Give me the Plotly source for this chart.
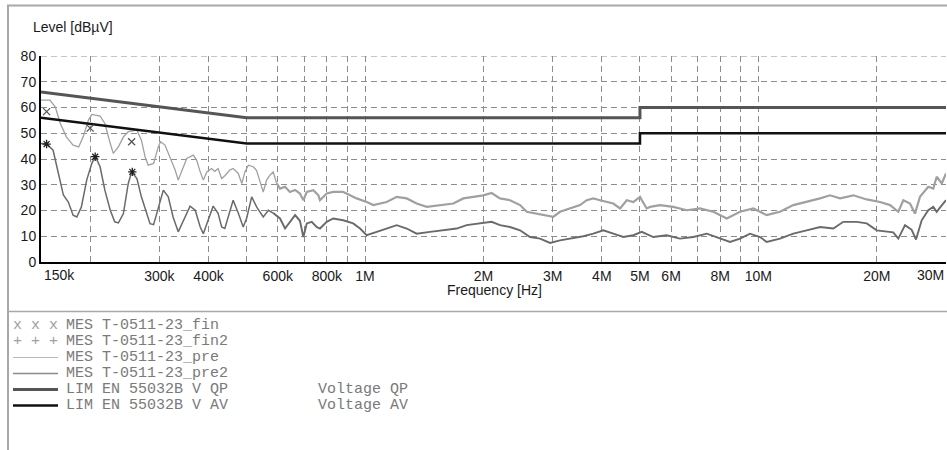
import plotly.graph_objects as go

# ---------------- data ----------------
# prescan peak (pre) - frequency in kHz, level in dBuV
pre_f_khz = [150,158,163,168,174,181,187,192,198,202,
             212,218,225,229,236,243,250,263,270,276,
             281,290,298,302,310,319,329,335,345,352,
             366,373,381,388,396,407,415,423,432,440,
             453,462,476,486,495,505,520,530,541,551,
             562,573,584,596,608,626,644,664,683,697,
             711,739,761,768,799,830,880,916,952,1010,
             1050,1135,1204,1276,1353,1435,1551,1677,1778,1885,
             1998,2098,2203,2337,2478,2577,2733,2898,3010,3131,
             3320,3520,3661,3805,3957,4116,4278,4451,4628,4809,
             5001,5200,5304,5624,6079,6576,7107,7683,8311,8983,
             9710,10500,11350,12270,13270,14350,15210,16130,17440,18860,
             20390,21620,22690,23370,24300,25020,25760,27040,27850,28410,29260,30000]
pre_db = [62.9,62.9,60.3,53.8,48.6,45.4,44.7,48.6,55.1,57.3,
          56.7,53.8,46.0,42.2,44.7,48.6,50.6,51.2,47.3,40.8,
          37.6,38.3,44.7,46.7,45.4,40.8,35.7,31.8,37.0,40.2,
          41.5,39.6,35.0,31.8,35.0,36.3,35.2,36.3,32.4,33.5,
          35.7,36.3,34.4,30.5,35.0,37.6,37.0,35.5,31.1,27.2,
          31.8,33.7,35.0,30.5,28.5,29.2,27.2,28.0,26.6,24.0,
          27.2,27.9,25.9,24.0,26.6,27.2,27.2,25.9,24.7,23.3,
          22.1,23.3,25.3,24.7,22.7,21.4,22.1,22.7,24.7,25.3,
          25.9,26.8,24.7,24.0,22.1,19.5,18.8,18.2,17.5,19.5,
          20.8,22.1,24.0,24.7,24.0,23.3,22.7,20.8,24.0,23.3,
          25.3,20.8,21.4,22.1,21.4,20.1,20.8,19.5,16.9,19.5,
          20.8,18.2,19.5,22.1,23.3,24.7,25.9,24.7,25.9,24.3,
          23.3,22.1,19.5,24.0,22.7,18.8,25.3,29.2,28.5,33.1,30.5,34.4]

# prescan average (pre2)
pre2_f_khz = [150,155,161,166,171,176,181,185,190,196,
              202,206,212,218,225,231,236,243,250,255,
              263,270,279,284,290,298,307,316,325,335,
              345,359,370,381,388,399,411,423,432,440,
              453,462,476,490,500,515,530,551,568,584,
              608,626,644,664,683,697,711,732,753,768,
              799,830,880,933,971,1010,1071,1135,1204,1276,
              1353,1463,1581,1710,1813,1960,2098,2203,2337,2478,
              2627,2786,2954,3131,3320,3588,3805,4035,4278,4536,
              4809,5052,5408,5847,6321,6834,7392,7989,8472,8983,
              9524,10100,10500,11350,12270,13270,14350,15510,16440,17790,
              18860,20000,21210,22030,22690,23600,24540,25170,26020,27040,
              27850,28410,29260,30000]
pre2_db = [46.0,45.8,43.4,34.4,26.0,23.3,18.2,17.5,21.4,31.8,
           38.3,41.1,37.0,27.9,20.1,15.6,15.2,18.8,30.5,35.0,
           32.4,25.3,18.8,14.9,14.5,21.4,27.9,25.3,17.5,11.7,
           16.2,21.7,20.1,13.6,11.0,16.2,21.7,18.9,13.6,13.0,
           19.5,24.0,19.0,13.6,17.0,25.3,21.4,17.5,20.1,19.0,
           16.9,13.0,15.5,18.2,16.0,9.7,15.0,15.6,13.6,13.0,
           15.6,16.9,16.2,15.0,13.0,10.4,11.7,13.0,14.3,13.0,
           11.0,11.7,12.3,13.0,14.3,15.0,15.6,14.3,13.6,12.3,
           9.7,9.1,7.4,8.4,9.1,10.0,11.0,12.3,11.0,9.7,
           10.4,11.7,9.7,10.4,9.1,9.7,11.0,9.1,7.8,9.1,
           11.0,9.7,7.8,9.1,11.0,12.3,13.6,13.0,15.6,15.6,
           15.0,12.3,11.7,11.5,9.1,14.3,12.5,8.7,16.2,20.1,
           21.4,19.5,22.0,24.0]

# final measurements
fin_f_khz = [155, 200, 255]
fin_db = [58.4, 52.0, 46.7]
fin2_f_khz = [155, 206, 256]
fin2_db = [45.8, 40.9, 35.0]

# limits EN 55032 class B
lim_f_khz = [150, 500, 5000, 5000, 30000]
lim_qp_db = [66, 56, 56, 60, 60]
lim_av_db = [56, 46, 46, 50, 50]

grid_f = [200e3,300e3,400e3,500e3,600e3,700e3,800e3,900e3,1e6,2e6,3e6,4e6,5e6,6e6,7e6,8e6,9e6,1e7,2e7]
grid_txt = ["","300k","400k","","600k","","800k","","1M","2M","3M","4M","5M","6M","","8M","","10M","20M"]
y_ticks = [0,10,20,30,40,50,60,70,80]

legend_rows = [
    ("x x x", "MES T-0511-23_fin"),
    ("+ + +", "MES T-0511-23_fin2"),
    ("", "MES T-0511-23_pre"),
    ("", "MES T-0511-23_pre2"),
    ("", "LIM EN 55032B V QP          Voltage QP"),
    ("", "LIM EN 55032B V AV          Voltage AV"),
]

# ---------------- figure ----------------
k = lambda lst: [v * 1e3 for v in lst]
split_khz = 600  # beyond this the scans look noisier / thicker


def segment(fl, dl, high):
    if not high:
        idx = [j for j, f in enumerate(fl) if f <= split_khz]
    else:
        first = max(j for j, f in enumerate(fl) if f < split_khz)
        idx = [first] + [j for j, f in enumerate(fl) if f >= split_khz]
    return [fl[j] for j in idx], [dl[j] for j in idx]


fig = go.Figure()
for high, w in ((False, 1.3), (True, 2.2)):
    fx, dy = segment(pre_f_khz, pre_db, high)
    fig.add_trace(go.Scatter(x=k(fx), y=dy, mode="lines",
                             line=dict(color="#a0a0a0", width=w), hoverinfo="skip"))
for high, w in ((False, 1.5), (True, 1.9)):
    fx, dy = segment(pre2_f_khz, pre2_db, high)
    fig.add_trace(go.Scatter(x=k(fx), y=dy, mode="lines",
                             line=dict(color="#6a6a6a", width=w), hoverinfo="skip"))
fig.add_trace(go.Scatter(x=k(lim_f_khz), y=lim_qp_db, mode="lines",
                         line=dict(color="#555555", width=3)))
fig.add_trace(go.Scatter(x=k(lim_f_khz), y=lim_av_db, mode="lines",
                         line=dict(color="#111111", width=2.6)))
fig.add_trace(go.Scatter(x=k(fin_f_khz), y=fin_db, mode="markers",
                         marker=dict(symbol="x-thin", size=7, line=dict(color="#555555", width=1.3))))
fig.add_trace(go.Scatter(x=k(fin2_f_khz), y=fin2_db, mode="markers",
                         marker=dict(symbol="asterisk", size=7, line=dict(color="#222222", width=1.3))))

W, H = 947, 450
L, R, T, B = 41, 1, 56, 188
pw, ph = W - L - R, H - T - B


def px(x):
    return (x - L) / pw


def py(y):
    return (H - B - y) / ph


shapes = []
gray = "#a8a8a8"
shapes.append(dict(type="line", xref="paper", yref="paper", x0=px(8), x1=px(8), y0=py(5.5), y1=py(452),
                   line=dict(color=gray, width=2)))
shapes.append(dict(type="line", xref="paper", yref="paper", x0=px(7), x1=px(950), y0=py(5.5), y1=py(5.5),
                   line=dict(color=gray, width=2)))
shapes.append(dict(type="line", xref="paper", yref="paper", x0=px(8), x1=px(950), y0=py(311.5), y1=py(311.5),
                   line=dict(color=gray, width=1.5)))

annotations = []
font_sans = dict(family="Liberation Sans, Arial", size=14, color="#1a1a1a")
annotations.append(dict(text="Level [dBµV]", xref="paper", yref="paper", x=px(31), y=py(27),
                        xanchor="left", yanchor="middle", showarrow=False, font=font_sans))
annotations.append(dict(text="Frequency [Hz]", xref="paper", yref="paper", x=px(494), y=py(290),
                        xanchor="center", yanchor="middle", showarrow=False, font=font_sans))
annotations.append(dict(text="150k", xref="paper", yref="paper", x=px(42), y=py(275),
                        xanchor="left", yanchor="middle", showarrow=False, font=font_sans))
annotations.append(dict(text="30M", xref="paper", yref="paper", x=px(946), y=py(275),
                        xanchor="right", yanchor="middle", showarrow=False, font=font_sans))

mono = dict(family="Liberation Mono, Courier New, monospace", size=15, color="#7a7a7a")
mono_mk = dict(family="Liberation Mono, Courier New, monospace", size=15, color="#a0a0a0")
row_y = [325.5, 341.5, 357.5, 373.5, 389.5, 405.5]
sample_styles = [None, None, ("#b8b8b8", 1), ("#8c8c8c", 1.5), ("#555555", 3), ("#111111", 2.6)]
for (mk, txt), yy, st in zip(legend_rows, row_y, sample_styles):
    if mk:
        annotations.append(dict(text=mk, xref="paper", yref="paper", x=px(10.5), y=py(yy),
                                xanchor="left", yanchor="middle", showarrow=False, font=mono_mk))
    if st:
        shapes.append(dict(type="line", xref="paper", yref="paper", x0=px(13), x1=px(58), y0=py(yy), y1=py(yy),
                           line=dict(color=st[0], width=st[1])))
    annotations.append(dict(text=txt.replace(" ", "&nbsp;"), xref="paper", yref="paper", x=px(63.5), y=py(yy),
                            xanchor="left", yanchor="middle", showarrow=False, font=mono))

# dashed grid line at top (80)
shapes.append(dict(type="line", xref="paper", yref="y", x0=0, x1=1, y0=80, y1=80,
                   line=dict(color="#8c8c8c", width=1, dash="6px,4px"), layer="below"))

fig.update_layout(
    width=W, height=H, margin=dict(l=L, r=R, t=T, b=B),
    paper_bgcolor="white", plot_bgcolor="white", showlegend=False,
    shapes=shapes, annotations=annotations,
    font=font_sans,
    xaxis=dict(type="log", range=[5.176091, 7.477121], tickmode="array", tickvals=grid_f, ticktext=grid_txt,
               showgrid=True, gridcolor="#8c8c8c", gridwidth=1, griddash="6px,4px",
               showline=True, linecolor="#000000", linewidth=1.5, ticks="",
               tickfont=font_sans, zeroline=False, layer="below traces"),
    yaxis=dict(range=[0, 80], tickmode="array", tickvals=y_ticks,
               showgrid=True, gridcolor="#8c8c8c", gridwidth=1, griddash="6px,4px",
               showline=True, linecolor="#000000", linewidth=2, ticks="",
               tickfont=font_sans, zeroline=False, layer="below traces"),
)

fig.write_html("out.html", config={"displayModeBar": False},
               post_script="document.body.style.margin='0';document.body.style.overflow='hidden';")
